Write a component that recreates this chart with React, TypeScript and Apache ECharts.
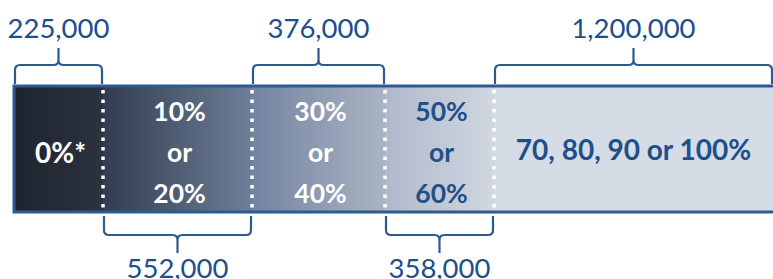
import React, { useEffect, useRef } from "react";
import * as echarts from "echarts";

// ---- data ----
const segmentSpans = [89, 149, 133, 109, 279]; // relative widths of the bands
const segmentLabels = ["0%*", "10%\nor\n20%", "30%\nor\n40%", "50%\nor\n60%", "70, 80, 90 or 100%"];
const groupCounts = [225000, 552000, 376000, 358000, 1200000];
const categories = ["households"];

// ---- styles ----
const BLUE = "#2d5b91";
const TEXT_BLUE = "#1f4f8b";
const gradients = [
  ["#1f242d", "#2b3342"],
  ["#313c4f", "#6f7f98"],
  ["#7383a0", "#a9b3c4"],
  ["#afb9ca", "#d1d7e1"],
  ["#d6dce6", "#d6dce6"],
];
const labelColors = ["#ffffff", "#ffffff", "#ffffff", TEXT_BLUE, TEXT_BLUE];
const FONT = "Lato, 'Open Sans', sans-serif";

export default function App() {
  const ref = useRef<HTMLDivElement>(null);

  useEffect(() => {
    if (!ref.current) return;
    const chart = echarts.init(ref.current, undefined, { renderer: "svg" });

    const total = segmentSpans.reduce((a, b) => a + b, 0);
    const starts: number[] = [];
    let acc = 0;
    segmentSpans.forEach((s) => {
      starts.push(acc);
      acc += s;
    });

    const barSeries = segmentSpans.map((span, i) => ({
      type: "bar",
      name: "seg" + i,
      stack: "all",
      barWidth: "100%",
      data: [span],
      itemStyle: {
        color: new echarts.graphic.LinearGradient(0, 0, 1, 0, [
          { offset: 0, color: gradients[i][0] },
          { offset: 1, color: gradients[i][1] },
        ]),
      },
      label: {
        show: true,
        position: "inside",
        formatter: segmentLabels[i],
        color: labelColors[i],
        fontFamily: FONT,
        fontWeight: "bold",
        fontSize: i === 0 || i === 4 ? 28 : 26.5,
        lineHeight: 41,
        offset: [i === 4 ? 0 : 2, i === 4 ? 0 : 3],
      },
      emphasis: { disabled: true },
      z: 2,
    }));

    const customData = segmentSpans.map((span, i) => [starts[i], starts[i] + span, 0, i]);

    const braceSeries = {
      type: "custom",
      clip: false,
      z: 5,
      encode: { x: [0, 1], y: 2 },
      data: customData,
      renderItem: (params: any, api: any) => {
        const i = params.dataIndex;
        const start = api.value(0);
        const end = api.value(1);
        const p1 = api.coord([start, 0]);
        const p2 = api.coord([end, 0]);
        const band = api.size([0, 1])[1];
        const yTop = p1[1] - band / 2;
        const yBot = p1[1] + band / 2;
        const x1 = p1[0] + 1;
        const x2 = Math.min(p2[0] - 1, 772);
        const xm = (x1 + x2) / 2;
        const r = 5;
        const top = i % 2 === 0;
        let d: string;
        let ty: number;
        if (top) {
          const yb = yTop - 2;
          const yh = yTop - 21;
          const yt = yTop - 38;
          d = `M${x1} ${yb} L${x1} ${yh + r} Q${x1} ${yh} ${x1 + r} ${yh} L${xm - r} ${yh} Q${xm} ${yh} ${xm} ${yh - r} L${xm} ${yt} M${xm} ${yh - r} Q${xm} ${yh} ${xm + r} ${yh} L${x2 - r} ${yh} Q${x2} ${yh} ${x2} ${yh + r} L${x2} ${yb}`;
          ty = yTop - 59;
        } else {
          const yb = yBot + 4;
          const yh = yBot + 23;
          const yt = yBot + 41;
          d = `M${x1} ${yb} L${x1} ${yh - r} Q${x1} ${yh} ${x1 + r} ${yh} L${xm - r} ${yh} Q${xm} ${yh} ${xm} ${yh + r} L${xm} ${yt} M${xm} ${yh + r} Q${xm} ${yh} ${xm + r} ${yh} L${x2 - r} ${yh} Q${x2} ${yh} ${x2} ${yh - r} L${x2} ${yb}`;
          ty = yBot + 55;
        }
        const children: any[] = [
          {
            type: "path",
            shape: { pathData: d },
            style: { stroke: BLUE, lineWidth: 2.2, fill: "none" },
          },
          {
            type: "text",
            style: {
              text: groupCounts[i].toLocaleString("en-US"),
              x: xm,
              y: ty,
              align: "center",
              verticalAlign: "middle",
              fill: TEXT_BLUE,
              font: `27.5px ${FONT}`,
            },
          },
        ];
        if (i > 0) {
          children.push({
            type: "line",
            shape: { x1: p1[0], y1: yTop + 4, x2: p1[0], y2: yBot - 3 },
            style: { stroke: "#ffffff", lineWidth: 3.5, lineDash: [3.5, 6] },
          });
        }
        if (i === 0) {
          const xe = api.coord([total, 0])[0] + 5;
          children.push({
            type: "polyline",
            shape: {
              points: [
                [xe, yTop],
                [p1[0], yTop],
                [p1[0], yBot],
                [xe, yBot],
              ],
            },
            style: { stroke: BLUE, lineWidth: 3, fill: "none" },
          });
        }
        return { type: "group", children };
      },
    };

    chart.setOption({
      animation: false,
      grid: { left: 14, right: 0, top: 86, bottom: 67 },
      xAxis: { type: "value", min: 0, max: total, show: false },
      yAxis: { type: "category", data: categories, show: false },
      series: [...barSeries, braceSeries],
    });

    return () => chart.dispose();
  }, []);

  return (
    <div
      ref={ref}
      style={{ position: "fixed", left: 0, top: 0, width: 773, height: 279, background: "#ffffff" }}
    />
  );
}
